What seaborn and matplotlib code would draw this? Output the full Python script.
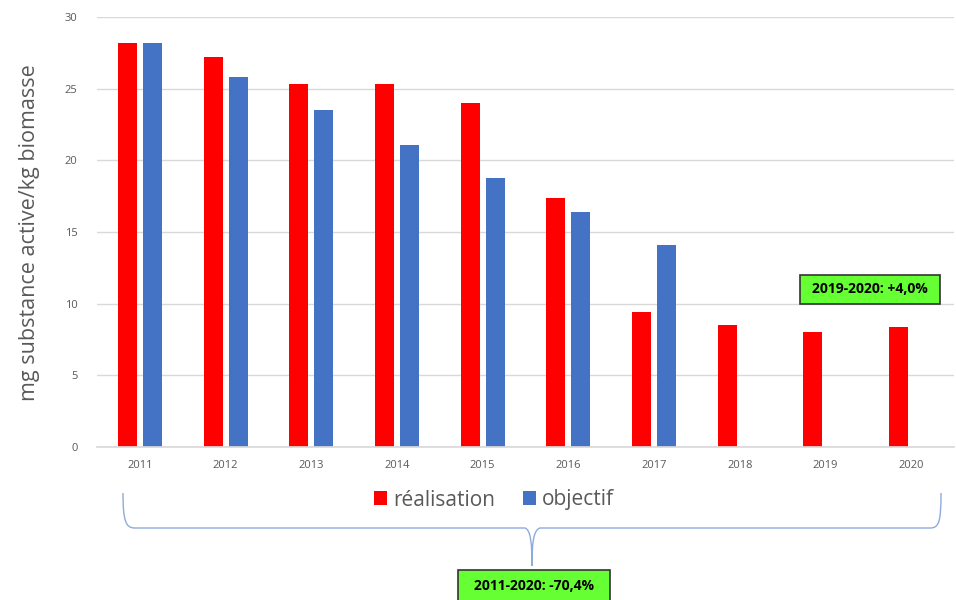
import matplotlib
matplotlib.use("Agg")
import matplotlib.pyplot as plt
import seaborn as sns
import pandas as pd
import numpy as np
from matplotlib.path import Path
from matplotlib.patches import PathPatch, Rectangle, Patch

years = ["2011", "2012", "2013", "2014", "2015", "2016", "2017", "2018", "2019", "2020"]
realisation = [28.2, 27.2, 25.3, 25.3, 24.0, 17.4, 9.4, 8.5, 8.05, 8.35]
objectif = [28.2, 25.8, 23.5, 21.1, 18.8, 16.4, 14.1, np.nan, np.nan, np.nan]
series_names = ["réalisation", "objectif"]
colors = ["#ff0000", "#4472c4"]
yticks = [0, 5, 10, 15, 20, 25, 30]
note_recent = "2019-2020: +4,0%"
note_total = "2011-2020: -70,4%"
ylabel = "mg substance active/kg biomasse"

df = pd.DataFrame({
    "year": years * 2,
    "value": realisation + objectif,
    "series": [series_names[0]] * len(years) + [series_names[1]] * len(years),
})

sns.set_theme(style="white")
plt.rcParams["font.family"] = ["Open Sans", "DejaVu Sans"]

W, H = 956, 600
fig = plt.figure(figsize=(9.56, 6.0), dpi=100)
ax = fig.add_axes([97 / W, 1 - 447 / H, 857 / W, 430 / H])

sns.barplot(data=df, x="year", y="value", hue="series", hue_order=series_names,
            palette=colors, width=0.583, gap=0.24, ax=ax, legend=False,
            saturation=1, edgecolor="none")

ax.set_xlim(-0.5, 9.5)
ax.set_ylim(0, 30)
ax.set_yticks(yticks)
ax.set_yticklabels([str(t) for t in yticks])
ax.yaxis.grid(True, color="#d9d9d9", linewidth=1)
ax.set_axisbelow(True)
for s in ["top", "right", "left"]:
    ax.spines[s].set_visible(False)
ax.spines["bottom"].set_color("#d9d9d9")
ax.tick_params(axis="both", length=0, labelsize=8, labelcolor="#595959")
ax.tick_params(axis="y", pad=14)
ax.tick_params(axis="x", pad=9)
ax.set_xlabel("")
ax.set_ylabel("")
fig.text(30 / W, 1 - 233 / H, ylabel, rotation=90, ha="center", va="center",
         fontsize=15.5, color="#595959")

# legend
handles = [Patch(facecolor=c, edgecolor="none") for c in colors]
fig.legend(handles, series_names, loc="center", bbox_to_anchor=(494 / W, 1 - 500 / H),
           ncol=2, frameon=False, fontsize=15, handlelength=0.65, handleheight=0.65,
           handletextpad=0.3, columnspacing=1.3, labelcolor="#595959")

# brace
def fp(x, y):
    return (x / W, 1 - y / H)
verts = [fp(123, 493), fp(123, 522), fp(126, 528), fp(135, 528),
         fp(525, 528), fp(531, 530), fp(532, 545), fp(532, 566),
         fp(532, 545), fp(533, 530), fp(540, 528),
         fp(930, 528), fp(939, 528), fp(941, 522), fp(941, 493)]
codes = [Path.MOVETO, Path.CURVE4, Path.CURVE4, Path.CURVE4,
         Path.LINETO, Path.CURVE4, Path.CURVE4, Path.CURVE4,
         Path.CURVE4, Path.CURVE4, Path.CURVE4,
         Path.LINETO, Path.CURVE4, Path.CURVE4, Path.CURVE4]
fig.patches.append(PathPatch(Path(verts, codes), transform=fig.transFigure,
                             facecolor="none", edgecolor="#8faadc", linewidth=1))

def note(x0, y0, x1, y1, text):
    fig.patches.append(Rectangle(fp(x0, y1), (x1 - x0) / W, (y1 - y0) / H,
                                 transform=fig.transFigure, facecolor="#66ff33",
                                 edgecolor="#333333", linewidth=1.2))
    fig.text((x0 + x1) / 2 / W, 1 - (y0 + y1) / 2 / H, text, ha="center", va="center",
             fontsize=10, fontweight="bold", color="black")

note(800, 275, 940, 304, note_recent)
note(458, 570, 610, 601, note_total)

fig.savefig("out.png", dpi=100)
